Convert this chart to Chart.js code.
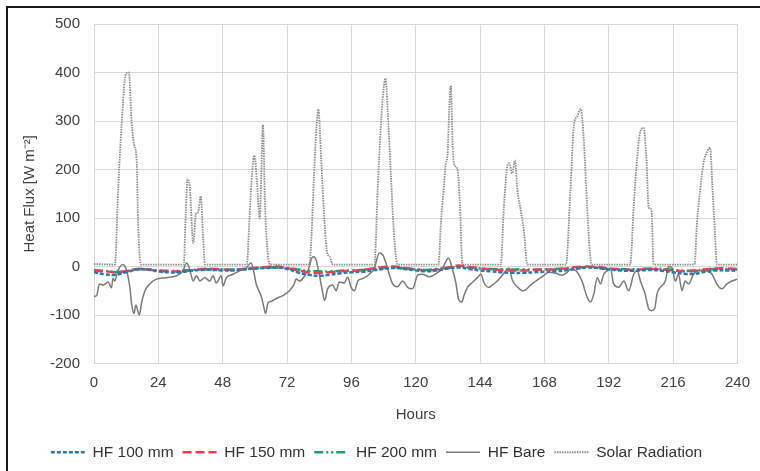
<!DOCTYPE html>
<html>
<head>
<meta charset="utf-8">
<script src="https://cdn.jsdelivr.net/npm/chart.js@4"></script>
<style>
  html, body { margin: 0; padding: 0; background: #fff; overflow: hidden; }
  #frame { position: absolute; left: 6px; top: 6px; width: 900px; height: 600px; border: 2px solid #1a1a1a; }
  #c { position: absolute; left: 0; top: 0; }
</style>
</head>
<body>
<div id="frame"></div>
<canvas id="c" width="760" height="471"></canvas>
<script>
// hours for the three buried heat flux plates (read every 4 h)
const hfHours = [0, 4, 8, 12, 16, 20, 24, 28, 32, 36, 40, 44, 48, 52, 56, 60, 64, 68, 72, 76,
    80, 84, 88, 92, 96, 100, 104, 108, 112, 116, 120, 124, 128, 132, 136, 140, 144, 148, 152, 156,
    160, 164, 168, 172, 176, 180, 184, 188, 192, 196, 200, 204, 208, 212, 216, 220, 224, 228, 232, 236, 240];
const hf100 = [-12, -16, -17, -12, -6, -6, -10, -12, -12, -9, -7, -7, -8, -8, -6, -4, -3, -2, -5, -12,
    -17, -19, -17, -14, -12, -11, -8, -5, -3, -5, -8, -10, -8, -4, -2, -5, -8, -10, -12, -13,
    -13, -12, -11, -10, -8, -5, -2, -3, -6, -8, -9, -8, -7, -9, -12, -15, -15, -11, -8, -8, -9];
const hf150 = [-9, -10, -12, -10, -5, -6, -9, -10, -10, -8, -5, -5, -6, -7, -5, -3, -1, 0, -3, -8,
    -12, -13, -12, -10, -9, -7, -4, -1, 0, -3, -6, -8, -6, -2, 2, -1, -4, -6, -7, -8,
    -8, -7, -6, -6, -4, -1, 0, -1, -4, -6, -7, -6, -5, -6, -8, -10, -9, -6, -4, -4, -5];
const hf200 = [-7, -9, -11, -10, -6, -6, -8, -9, -9, -7, -6, -5, -6, -6, -5, -4, -2, -2, -3, -6,
    -9, -10, -10, -9, -8, -7, -5, -3, -2, -4, -6, -7, -5, -3, 0, -2, -4, -5, -6, -6,
    -6, -6, -6, -5, -4, -2, -2, -3, -5, -5, -6, -5, -4, -5, -7, -9, -8, -6, -5, -5, -6];

// bare soil heat flux
const bareHours = [0, 1, 2, 3.5, 5.3, 6.5, 7.1, 7.7, 8.9, 10.7, 12.2, 13.4, 14, 14.9, 15.6, 16.9, 17.7, 19, 20.8, 23.3,
    27, 30.8, 33.2, 34.5, 35.7, 37, 38.2, 39.5, 41.3, 43.2, 44.4, 45.6, 47.5, 48.1, 49.4, 51.9, 54.3, 56.8, 58.5, 59.3,
    60.5, 61.5, 62.4, 63.2, 64, 64.9, 66.1, 68, 70.4, 72.9, 74.5, 75.4, 76.7, 78.5, 80, 81.6, 82.5, 84, 85, 86,
    87.2, 89, 90.3, 91.5, 93.4, 94.6, 95.9, 97.1, 98.4, 100.2, 102.7, 104.6, 106.4, 107.7, 108.9, 110.1, 111.4, 113.2, 115.1, 117,
    118.3, 119.1, 120.7, 122.5, 125, 127.5, 130, 132.2, 133.7, 135, 136, 137.2, 138, 139.3, 141.1, 143, 144.3, 145.5, 147.3, 148.6,
    149.8, 151.7, 153.6, 154.8, 156, 157.9, 159.8, 161, 162.9, 164.8, 167.2, 169.7, 172.2, 174.6, 176.5, 177.7, 179.6, 182, 183.9, 185.2,
    186.4, 187.7, 188.9, 190.1, 191.4, 192.6, 193.8, 195.7, 197.6, 199.4, 201.3, 202.6, 203.8, 205.5, 206.9, 207.9, 209.1, 210, 211.2, 213.1,
    214.3, 215.6, 216.8, 218, 219.3, 220.5, 221.8, 223.6, 225.5, 228, 230.5, 232.3, 234.2, 236.1, 237.9, 240];
const bareValues = [-62, -60, -36, -38, -32, -44, -24, -30, -9, 4, -9, -44, -76, -97, -80, -100, -76, -50, -36, -26,
    -23, -19, -9, 7, -6, -30, -19, -30, -23, -30, -19, -34, -19, -40, -23, -16, -9, -3, 7, -3,
    -36, -50, -62, -80, -97, -75, -72, -66, -60, -50, -38, -26, -30, -20, -5, 20, 18, -16, -45, -70,
    -45, -38, -50, -32, -34, -22, -43, -50, -30, -25, -16, -3, 28, 24, 7, -16, -36, -42, -30, -43,
    -46, -44, -18, -16, -21, -15, -3, 17, -5, -35, -68, -73, -60, -43, -33, -23, -16, -34, -43, -38,
    -33, -22, -9, -3, -28, -42, -50, -48, -38, -30, -21, -12, -14, -18, -12, -5, -8, -30, -63, -73,
    -57, -23, -36, -16, -9, -3, -36, -43, -30, -50, -16, -9, -30, -56, -87, -91, -87, -56, -43, -30,
    0, -3, -30, -16, -50, -30, -36, -16, -9, -9, -16, -36, -46, -36, -30, -26];

// solar radiation
const solarHours = [0, 7.8, 9, 10.3, 11.5, 12, 13, 14, 15, 15.9, 16.5, 17.6,
    33.5, 34.2, 34.9, 35.7, 37, 38, 38.8, 39.8, 40.7, 41.4,
    57, 58, 59, 59.8, 60.8, 61.8, 62.4, 63, 63.8, 64.8, 65.7,
    80.3, 81, 82, 83, 83.7, 84.7, 86, 87, 88, 89,
    104.6, 105.8, 107, 107.9, 108.7, 109.5, 110.7, 112, 113.2,
    128.5, 129.4, 130.4, 131.2, 131.9, 132.5, 133.1, 133.7, 134.3, 135.6, 136.5, 137.4,
    151.7, 152.9, 154.1, 154.8, 156, 157, 157.9, 159.1, 160.4, 161.6,
    176, 177.7, 179, 180.2, 181.5, 182.7, 183.9, 185, 185.6,
    200, 201.3, 202.6, 203.8, 205, 206, 206.9, 207.9, 208.7,
    224, 224.9, 226.1, 227.3, 228.9, 229.8, 230.7, 231.7, 232.3, 240];
const solarValues = [5, 4, 158, 292, 386, 398, 400, 300, 250, 220, 80, 4,
    4, 108, 180, 165, 48, 108, 112, 145, 58, 4,
    4, 100, 195, 229, 172, 99, 190, 292, 125, 26, 4,
    4, 50, 180, 290, 324, 225, 90, 28, 20, 4,
    4, 158, 292, 360, 388, 326, 192, 58, 4,
    4, 91, 158, 212, 232, 326, 373, 259, 212, 199, 125, 4,
    4, 125, 205, 213, 192, 219, 158, 118, 71, 4,
    4, 158, 292, 309, 325, 259, 125, 26, 4,
    4, 125, 225, 279, 286, 225, 121, 118, 4,
    4, 91, 158, 212, 239, 245, 158, 58, 4, 4];

const xTicks = [0, 24, 48, 72, 96, 120, 144, 168, 192, 216, 240];

function pts(xs, ys) {
    return xs.map((x, i) => ({ x: x, y: ys[i] }));
}

const font = "'Liberation Sans', Arial, sans-serif";
const gridColor = "#d9d9d9";

let chart = new Chart(document.getElementById("c"), {
    type: "line",
    data: {
        datasets: [
            {
                label: "HF 100 mm",
                data: pts(hfHours, hf100),
                borderColor: "#2e75b6",
                borderWidth: 2.5,
                borderDash: [4, 2],
                tension: 0.4,
            },
            {
                label: "HF 150 mm",
                data: pts(hfHours, hf150),
                borderColor: "#e8434d",
                borderWidth: 2.5,
                borderDash: [9, 4],
                tension: 0.4,
            },
            {
                label: "HF 200 mm",
                data: pts(hfHours, hf200),
                borderColor: "#1c9f6a",
                borderWidth: 2.5,
                borderDash: [9, 3, 2, 3, 2, 3],
                tension: 0.4,
            },
            {
                label: "HF Bare",
                data: pts(bareHours, bareValues),
                borderColor: "#7a7a7a",
                borderWidth: 1.5,
                cubicInterpolationMode: "monotone",
            },
            {
                label: "Solar Radiation",
                data: pts(solarHours, solarValues),
                borderColor: "#8c8c8c",
                borderWidth: 1.8,
                borderDash: [1.5, 1],
                cubicInterpolationMode: "monotone",
            },
        ],
    },
    options: {
        responsive: false,
        animation: false,
        devicePixelRatio: 1,
        elements: { point: { radius: 0 } },
        layout: { padding: { left: 14, right: 21, top: 24, bottom: 1 } },
        scales: {
            x: {
                type: "linear",
                min: 0,
                max: 240,
                afterBuildTicks: (scale) => {
                    scale.ticks = xTicks.map((v) => ({ value: v }));
                },
                grid: { color: gridColor, drawTicks: false },
                border: { display: false },
                ticks: { padding: 10, color: "#404040", font: { family: font, size: 15 } },
                title: {
                    display: true,
                    text: "Hours",
                    color: "#404040",
                    font: { family: font, size: 15 },
                    padding: { top: 4, bottom: 12 },
                },
            },
            y: {
                min: -200,
                max: 500,
                afterFit: (scale) => {
                    scale.width = 80;
                },
                grid: { color: gridColor, drawTicks: false },
                border: { display: false },
                ticks: { stepSize: 100, padding: 14, color: "#404040", font: { family: font, size: 15 } },
                title: {
                    display: true,
                    text: "Heat Flux [W m⁻²]",
                    color: "#404040",
                    font: { family: font, size: 15 },
                    padding: { top: 7, bottom: 0 },
                },
            },
        },
        plugins: {
            legend: {
                position: "bottom",
                labels: {
                    usePointStyle: true,
                    pointStyle: "line",
                    pointStyleWidth: 34,
                    padding: 9,
                    color: "#333",
                    font: { family: font, size: 15.5 },
                    generateLabels: (chart) => {
                        let items = Chart.defaults.plugins.legend.labels.generateLabels(chart);
                        items.forEach((item) => {
                            let ds = chart.data.datasets[item.datasetIndex];
                            item.lineDash = ds.borderDash || [];
                            item.lineWidth = ds.borderWidth;
                            item.strokeStyle = ds.borderColor;
                            item.pointStyle = "line";
                        });
                        return items;
                    },
                },
            },
            tooltip: { enabled: false },
        },
    },
});
</script>
</body>
</html>
